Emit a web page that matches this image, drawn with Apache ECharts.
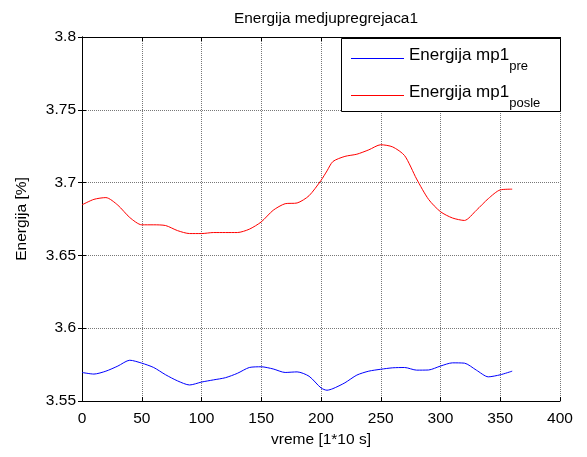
<!DOCTYPE html>
<html><head><meta charset="utf-8">
<script src="https://cdn.jsdelivr.net/npm/echarts@6/dist/echarts.min.js"></script>
<style>html,body{margin:0;padding:0;background:#fff}#c{width:587px;height:457px}</style>
</head><body><div id="c"></div>
<script>
const xs = [0,10,20,30,40,50,60,70,80,90,100,110,120,130,140,150,160,170,180,190,200,205,210,220,230,240,250,260,270,280,290,300,310,320,330,340,350,360];
const posle = [3.6847,3.6885,3.6897,3.6845,3.6760,3.6710,3.6710,3.6705,3.6670,3.6650,3.6650,3.6657,3.6657,3.6657,3.6680,3.6730,3.6810,3.6855,3.6860,3.6910,3.7015,3.7080,3.7145,3.7180,3.7195,3.7225,3.7260,3.7245,3.7185,3.7025,3.6885,3.6800,3.6757,3.6740,3.6810,3.6890,3.6950,3.6955];
const pre = [3.5696,3.5685,3.5705,3.5740,3.5780,3.5760,3.5730,3.5680,3.5638,3.5610,3.5630,3.5645,3.5660,3.5690,3.5730,3.5735,3.5720,3.5696,3.5700,3.5670,3.5590,3.5574,3.5585,3.5625,3.5678,3.5705,3.5718,3.5728,3.5730,3.5712,3.5713,3.5740,3.5762,3.5760,3.5712,3.5666,3.5680,3.5705];
const seriesNames = ['pre','posle'];
const titleText = 'Energija medjupregrejaca1';
const xName = 'vreme [1*10 s]';
const yName = 'Energija [%]';

const font = 'Arial, "Liberation Sans", sans-serif';
const chart = echarts.init(document.getElementById('c'), null, {renderer:'canvas'});
const G = {left:82, right:27, top:37, bottom:56};
const mk = (name, vals) => ({
  name: name, type:'line', showSymbol:false, smooth:0.25,
  data: xs.map((x,i)=>[x, vals[i]]),
  lineStyle:{width:1, color: name==='pre' ? '#0000ff' : '#ff0000'},
  itemStyle:{color: name==='pre' ? '#0000ff' : '#ff0000'},
  animation:false, z:3
});
const hiddenAxis = (pos, isX) => ({
  type:'value', position:pos, min: isX?0:3.55, max: isX?400:3.8, interval: isX?50:0.05,
  axisLine:{show:true, lineStyle:{color:'#000', width:1}},
  axisTick:{show:true, inside:true, length:4, lineStyle:{color:'#000'}},
  axisLabel:{show:false}, splitLine:{show:false}
});
chart.setOption({
  backgroundColor:'#fff',
  animation:false,
  title:{text:titleText, left:321, textAlign:'center', top:6,
    textStyle:{fontFamily:font, fontSize:15.4, fontWeight:'normal', color:'#000'}},
  grid:G,
  xAxis:[{
    type:'value', min:0, max:400, interval:50, position:'bottom',
    name:xName, nameLocation:'middle', nameGap:30,
    nameTextStyle:{fontFamily:font, fontSize:15.5, color:'#000'},
    axisLine:{show:true, onZero:false, lineStyle:{color:'#000', width:1}},
    axisTick:{show:true, inside:true, length:4, lineStyle:{color:'#000'}},
    axisLabel:{fontFamily:font, fontSize:15.5, color:'#000', margin:10},
    splitLine:{show:true, lineStyle:{color:'#777', type:[1,1], width:1}}
  }, hiddenAxis('top', true)],
  yAxis:[{
    type:'value', min:3.55, max:3.8, interval:0.05, position:'left',
    name:yName, nameLocation:'middle', nameGap:52, nameRotate:90,
    nameTextStyle:{fontFamily:font, fontSize:15.5, color:'#000'},
    axisLine:{show:true, onZero:false, lineStyle:{color:'#000', width:1}},
    axisTick:{show:true, inside:true, length:4, lineStyle:{color:'#000'}},
    axisLabel:{fontFamily:font, fontSize:15.5, color:'#000', margin:6,
      formatter:v=>(+v.toFixed(2)).toString()},
    splitLine:{show:true, lineStyle:{color:'#777', type:[1,1], width:1}}
  }, hiddenAxis('right', false)],
  legend:{
    orient:'vertical', left:346, top:42, itemWidth:53, itemHeight:1, itemGap:11,
    icon:'rect', backgroundColor:'transparent', z:60,
    data: seriesNames,
    formatter: n => '{a|Energija mp1}{b|' + n + '}',
    textStyle:{fontFamily:font, color:'#000',
      rich:{
        a:{fontFamily:font, fontSize:17, color:'#000', lineHeight:23, verticalAlign:'top'},
        b:{fontFamily:font, fontSize:13, color:'#000', padding:[13,0,0,0], lineHeight:23, verticalAlign:'top'}
      }}
  },
  graphic:[{type:'rect', left:341, top:38, z:50, shape:{width:219, height:73, x:0,y:0},
    style:{fill:'#fff', stroke:'#000', lineWidth:1}, silent:true}],
  series:[mk('pre', pre), mk('posle', posle)]
});
</script></body></html>
